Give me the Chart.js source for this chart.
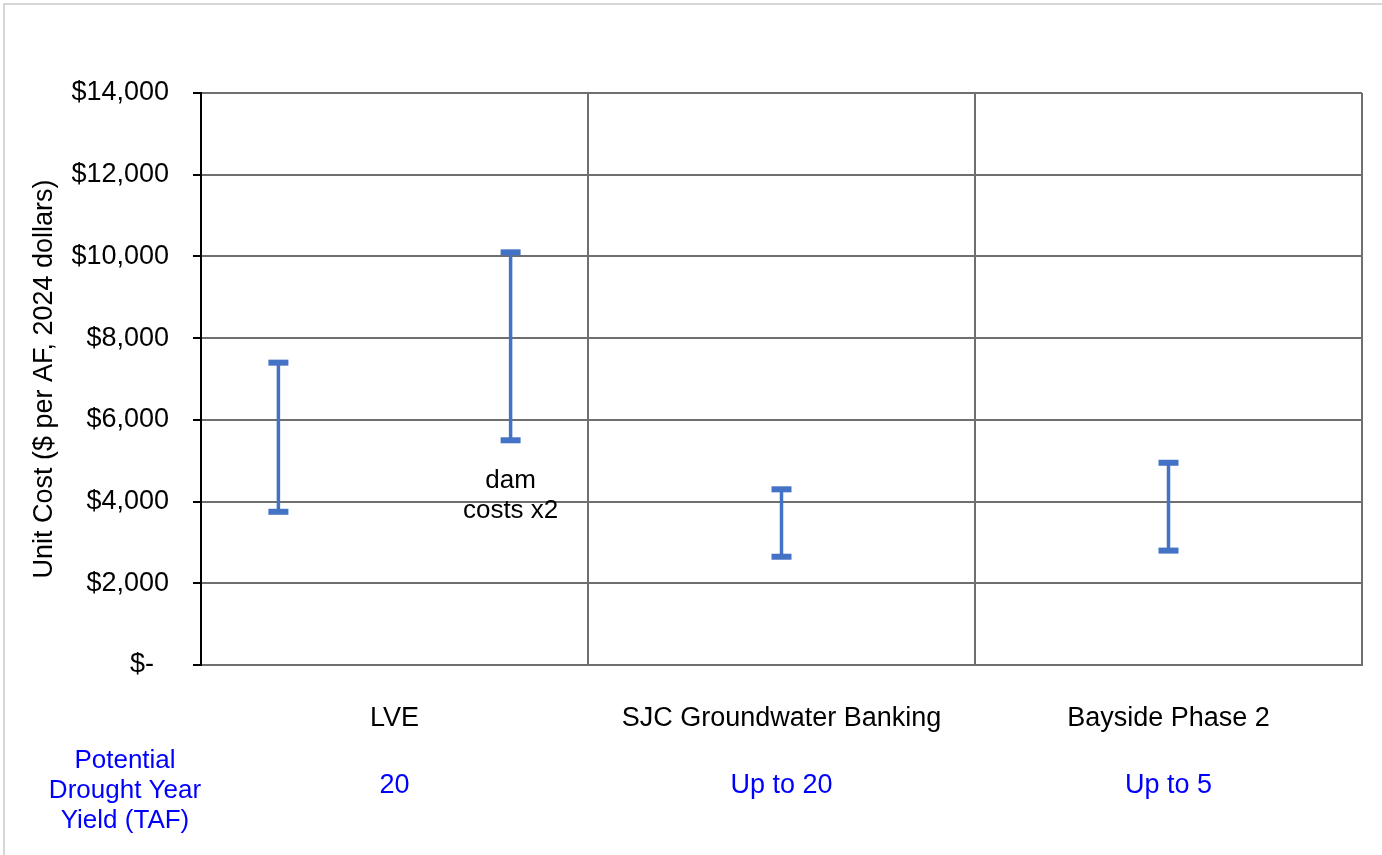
<!DOCTYPE html>
<html>
<head>
<meta charset="utf-8">
<script src="https://cdn.jsdelivr.net/npm/chart.js@4/dist/chart.umd.min.js"></script>
<style>
  html, body { margin: 0; padding: 0; background: #fff; overflow: hidden; }
  #wrap { position: relative; width: 1382px; height: 855px; }
  #frame { position: absolute; left: 3px; top: 3px; right: 0; bottom: 0;
           border-top: 2px solid #d6d6d6; border-left: 2px solid #d6d6d6; }
  canvas { position: absolute; left: 0; top: 0; }
</style>
</head>
<body>
<div id="wrap">
  <div id="frame"></div>
  <canvas id="costChart" width="1382" height="855"></canvas>
</div>
<script>
// Dữ liệu
const categories = ['LVE', 'SJC Groundwater Banking', 'Bayside Phase 2'];
const yieldLabels = ['20', 'Up to 20', 'Up to 5'];
const yieldTitle = ['Potential', 'Drought Year', 'Yield (TAF)'];

// mỗi khoảng chi phí: thuộc nhóm nào, giá trị thấp / cao, ghi chú
const rangeCategory = [0, 0, 1, 2];
const rangeLow = [3750, 5500, 2650, 2800];
const rangeHigh = [7400, 10100, 4300, 4950];
const rangeNotes = [[], ['dam', 'costs x2'], [], []];

const yMin = 0;
const yMax = 14000;
const yStep = 2000;

const FONT = "'Liberation Sans', Arial, sans-serif";
const barColor = '#4472C4';
const gridColor = '#6f6f6f';

// vị trí lệch trong nhóm khi nhóm có nhiều thanh
function rangeX(i) {
    const cat = rangeCategory[i];
    const same = rangeCategory.map((c, j) => j).filter(j => rangeCategory[j] === cat);
    const n = same.length;
    const k = same.indexOf(i);
    return n > 1 ? cat + (k - (n - 1) / 2) * 0.6 : cat;
}

const datasets = rangeLow.map((low, i) => ({
    data: [{ x: rangeX(i), y: low }, { x: rangeX(i), y: rangeHigh[i] }],
    borderColor: barColor,
    backgroundColor: barColor,
    borderWidth: 3.5,
    pointStyle: 'line',
    pointRadius: 10,
    pointBorderWidth: 6,
    pointBorderColor: barColor,
    showLine: true,
}));

// vẽ nhãn bên dưới trục và ghi chú
const labelPlugin = {
    id: 'labelPlugin',
    afterDraw(chart) {
        const ctx = chart.ctx;
        const xs = chart.scales.x;
        const ys = chart.scales.y;
        const bottom = chart.chartArea.bottom;
        ctx.save();
        ctx.textAlign = 'center';
        ctx.textBaseline = 'middle';

        ctx.font = '27px ' + FONT;
        categories.forEach((c, i) => {
            const x = xs.getPixelForValue(i);
            ctx.fillStyle = '#000';
            ctx.fillText(c, x, bottom + 54);
            ctx.fillStyle = '#0000ff';
            ctx.fillText(yieldLabels[i], x, bottom + 121);
        });

        ctx.font = '26px ' + FONT;
        ctx.fillStyle = '#0000ff';
        yieldTitle.forEach((t, k) => {
            ctx.fillText(t, 125, bottom + 96 + k * 30);
        });

        ctx.fillStyle = '#000';
        rangeNotes.forEach((lines, i) => {
            const x = xs.getPixelForValue(rangeX(i));
            const y = ys.getPixelForValue(rangeLow[i]);
            lines.forEach((l, k) => ctx.fillText(l, x, y + 41 + k * 30));
        });
        ctx.restore();
    }
};

const ctx = document.getElementById('costChart').getContext('2d');
new Chart(ctx, {
    type: 'line',
    data: { datasets: datasets },
    options: {
        responsive: false,
        animation: false,
        layout: { padding: { top: 93, right: 20, left: 0, bottom: 0 } },
        plugins: { legend: { display: false }, tooltip: { enabled: false } },
        scales: {
            x: {
                type: 'linear',
                min: -0.5,
                max: categories.length - 0.5,
                afterBuildTicks(scale) {
                    const t = [];
                    for (let i = 0; i <= categories.length; i++) t.push({ value: i - 0.5 });
                    scale.ticks = t;
                },
                afterFit(scale) { scale.height = 190; },
                ticks: { display: false },
                grid: { color: gridColor, lineWidth: 2, drawTicks: false },
                border: { color: gridColor, width: 2 }
            },
            y: {
                min: yMin,
                max: yMax,
                afterFit(scale) { scale.width = 201; },
                ticks: {
                    stepSize: yStep,
                    padding: 24,
                    color: '#000',
                    font: { family: FONT, size: 27 },
                    callback: v => v === 0 ? '$-  ' : '$' + v.toLocaleString('en-US')
                },
                grid: { color: gridColor, lineWidth: 2, tickColor: '#000', tickLength: 8 },
                border: { color: '#000', width: 2 },
                title: {
                    display: true,
                    text: 'Unit Cost ($ per AF, 2024 dollars)',
                    color: '#000',
                    font: { family: FONT, size: 27 },
                    padding: { top: 28, bottom: 0 }
                }
            }
        }
    },
    plugins: [labelPlugin]
});
</script>
</body>
</html>
